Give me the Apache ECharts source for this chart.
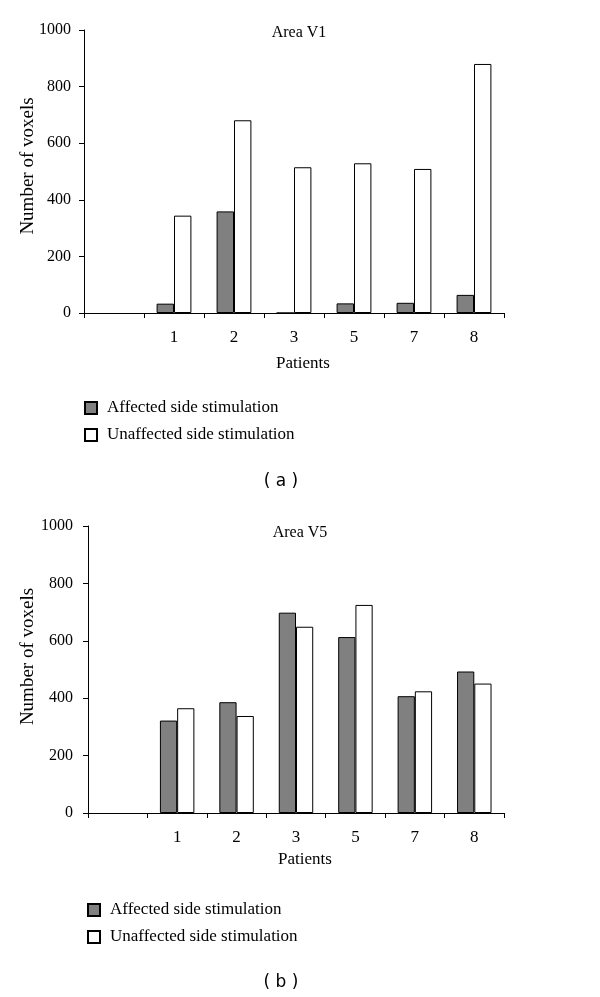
<!DOCTYPE html>
<html>
<head>
<meta charset="utf-8">
<script src="https://cdn.jsdelivr.net/npm/echarts@6/dist/echarts.min.js"></script>
<style>html,body{margin:0;padding:0;background:#fff;}#c{width:600px;height:997px;}</style>
</head>
<body>
<div id="c"></div>
<script>
var categories = ['', '1', '2', '3', '5', '7', '8'];
var v1Affected = ['-', 33, 359, 0, 34, 36, 64];
var v1Unaffected = ['-', 344, 681, 515, 529, 509, 880];
var v5Affected = ['-', 322, 386, 698, 613, 407, 493];
var v5Unaffected = ['-', 365, 338, 649, 725, 424, 451];
var yTicks = [0, 200, 400, 600, 800, 1000];
var seriesNames = ['Affected side stimulation', 'Unaffected side stimulation'];

var FONT = '"Liberation Serif", "Times New Roman", serif';
var chart = echarts.init(document.getElementById('c'), null, {renderer: 'canvas'});

function xAxis(gi, nameGap) {
  return {
    type: 'category', gridIndex: gi, data: categories, boundaryGap: true,
    axisLine: {lineStyle: {color: '#000', width: 1}},
    axisTick: {show: true, interval: 0, alignWithLabel: false, length: 5, lineStyle: {color: '#000'}},
    axisLabel: {interval: 0, color: '#000', fontFamily: FONT, fontSize: 17, margin: 16},
    name: 'Patients', nameLocation: 'middle', nameGap: nameGap, nameMoveOverlap: false,
    nameTextStyle: {color: '#000', fontFamily: FONT, fontSize: 17, padding: [0, 0, 0, 18]}
  };
}
function yAxis(gi, shiftPad, margin, nameGap) {
  return {
    type: 'value', gridIndex: gi, min: yTicks[0], max: yTicks[yTicks.length - 1], interval: yTicks[1] - yTicks[0],
    splitLine: {show: false},
    axisLine: {show: true, lineStyle: {color: '#000', width: 1}},
    axisTick: {show: true, length: 5, lineStyle: {color: '#000'}},
    axisLabel: {color: '#000', fontFamily: FONT, fontSize: 16, margin: margin, formatter: function (v) { return String(v); }},
    name: 'Number of voxels', nameLocation: 'middle', nameGap: nameGap, nameRotate: 90, nameMoveOverlap: false,
    nameTextStyle: {color: '#000', fontFamily: FONT, fontSize: 19, padding: [0, 0, 0, shiftPad]}
  };
}
function bar(name, gi, data, color) {
  return {
    type: 'bar', name: name, xAxisIndex: gi, yAxisIndex: gi, data: data,
    barGap: '0%', barCategoryGap: '42%',
    itemStyle: {color: color, borderColor: '#000', borderWidth: 1},
    emphasis: {disabled: true}, animation: false
  };
}
function legend(top, left) {
  return {
    data: seriesNames, orient: 'vertical', left: left, top: top, padding: 0,
    itemWidth: 12, itemHeight: 12, itemGap: 9,
    icon: 'rect',
    textStyle: {color: '#000', fontFamily: FONT, fontSize: 17, padding: [0, 0, 0, 5], lineHeight: 18},
    selectedMode: false
  };
}

chart.setOption({
  animation: false,
  grid: [
    {left: 84, right: 96, top: 30, height: 283},
    {left: 88, right: 96, top: 526, height: 287}
  ],
  xAxis: [xAxis(0, 42), xAxis(1, 38)],
  yAxis: [yAxis(0, 11, 13, 46), yAxis(1, 26, 15, 50)],
  legend: [legend(399, 84), legend(901, 87)],
  series: [
    bar(seriesNames[0], 0, v1Affected, '#808080'),
    bar(seriesNames[1], 0, v1Unaffected, '#ffffff'),
    bar(seriesNames[0], 1, v5Affected, '#808080'),
    bar(seriesNames[1], 1, v5Unaffected, '#ffffff')
  ],
  graphic: [
    {type: 'text', x: 299, y: 33, style: {text: 'Area V1', font: '16px ' + FONT, fill: '#000', align: 'center', verticalAlign: 'middle'}},
    {type: 'text', x: 300, y: 533, style: {text: 'Area V5', font: '16px ' + FONT, fill: '#000', align: 'center', verticalAlign: 'middle'}},
    {type: 'text', x: 281, y: 482, style: {text: '( a )', font: '17px "DejaVu Sans", sans-serif', fill: '#000', align: 'center', verticalAlign: 'middle'}},
    {type: 'text', x: 281, y: 983, style: {text: '( b )', font: '17px "DejaVu Sans", sans-serif', fill: '#000', align: 'center', verticalAlign: 'middle'}}
  ]
});
</script>
</body>
</html>
